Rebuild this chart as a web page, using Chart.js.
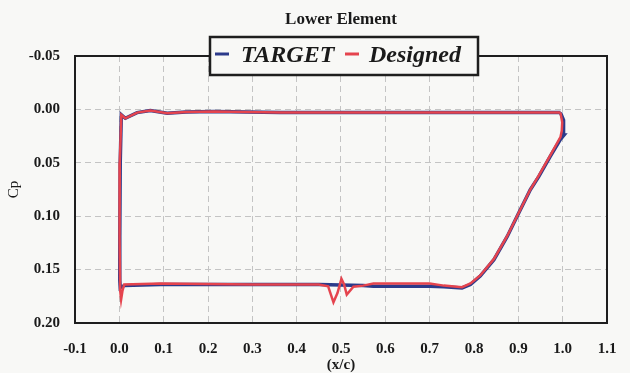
<!DOCTYPE html>
<html>
<head>
<meta charset="utf-8">
<script src="https://cdn.jsdelivr.net/npm/chart.js@4.4.0/dist/chart.umd.min.js"></script>
<style>
  body { margin: 0; background: #f8f8f6; }
  #cpChart { display: block; }
</style>
</head>
<body>
<canvas id="cpChart" width="630" height="373"></canvas>
<script>
// x/c and Cp, loop order: upper TE -> LE -> lower -> TE
let targetX = [0.995, 0.9, 0.7, 0.5, 0.363, 0.213, 0.15, 0.108, 0.07, 0.04, 0.0135, 0.0045,
  0.002, 0.001, 0.001, 0.002, 0.005, 0.011, 0.0925, 0.3, 0.45, 0.55, 0.573, 0.7, 0.732,
  0.773, 0.792, 0.814, 0.845, 0.875, 0.897, 0.927, 0.946, 0.972, 0.995, 1.003, 1.002, 0.995];
let targetCp = [0.003, 0.003, 0.003, 0.003, 0.003, 0.002, 0.0025, 0.0036, 0.0011, 0.003, 0.0083, 0.0051,
  0.05, 0.12, 0.16, 0.167, 0.166, 0.165, 0.164, 0.164, 0.164, 0.165, 0.1656, 0.1656, 0.166,
  0.1672, 0.164, 0.156, 0.1407, 0.119, 0.1002, 0.0752, 0.063, 0.044, 0.028, 0.024, 0.01, 0.003];

let designX = [0.995, 0.9, 0.7, 0.5, 0.363, 0.213, 0.15, 0.108, 0.07, 0.04, 0.0135, 0.0045,
  0.001, 0.0005, 0.002, 0.004, 0.007, 0.011, 0.0925, 0.3, 0.45, 0.471, 0.483, 0.492, 0.501,
  0.507, 0.513, 0.528, 0.55, 0.573, 0.7, 0.732, 0.773, 0.792, 0.814, 0.845, 0.875, 0.897,
  0.927, 0.946, 0.972, 0.995, 0.998, 0.999, 0.995];
let designCp = [0.003, 0.003, 0.003, 0.003, 0.003, 0.002, 0.0025, 0.0036, 0.0011, 0.003, 0.0083, 0.0051,
  0.05, 0.12, 0.17, 0.178, 0.17, 0.164, 0.163, 0.164, 0.164, 0.1656, 0.1806, 0.172, 0.1587,
  0.164, 0.1734, 0.166, 0.165, 0.163, 0.163, 0.165, 0.1665, 0.163, 0.1555, 0.140, 0.1185, 0.1,
  0.075, 0.062, 0.043, 0.026, 0.02, 0.012, 0.003];

let xTicks = [-0.1, 0.0, 0.1, 0.2, 0.3, 0.4, 0.5, 0.6, 0.7, 0.8, 0.9, 1.0, 1.1];
let yTicks = [-0.05, 0.00, 0.05, 0.10, 0.15, 0.20];

let seriesNames = ['TARGET', 'Designed'];
let seriesColors = ['#2c3a8a', '#e5444e'];

function toPoints(xs, ys) {
  return xs.map((x, i) => ({ x: x, y: ys[i] }));
}

// Paint the off-white paper background
let paperPlugin = {
  id: 'paper',
  beforeDraw(chart) {
    let ctx = chart.ctx;
    ctx.save();
    ctx.fillStyle = '#f8f8f6';
    ctx.fillRect(0, 0, chart.width, chart.height);
    ctx.restore();
  }
};

// Frame around the plot plus the boxed legend sitting on the top edge
let frameLegendPlugin = {
  id: 'frameLegend',
  afterDraw(chart) {
    let ctx = chart.ctx;
    let a = chart.chartArea;
    ctx.save();
    ctx.strokeStyle = '#1e1e1e';
    ctx.lineWidth = 2;
    ctx.strokeRect(a.left, a.top, a.right - a.left, a.bottom - a.top);

    // legend box
    let bx = 210, by = 37, bw = 268, bh = 38;
    ctx.fillStyle = '#f8f8f6';
    ctx.fillRect(bx, by, bw, bh);
    ctx.lineWidth = 2.5;
    ctx.strokeRect(bx, by, bw, bh);

    ctx.font = 'italic bold 24px "Liberation Serif", serif';
    ctx.textBaseline = 'middle';
    ctx.fillStyle = '#1a1a1a';
    let entries = [
      { lx: 215, tx: 241 },
      { lx: 345, tx: 369 }
    ];
    entries.forEach((e, i) => {
      ctx.strokeStyle = seriesColors[i];
      ctx.lineWidth = 3;
      ctx.beginPath();
      ctx.moveTo(e.lx, 54);
      ctx.lineTo(e.lx + 14, 54);
      ctx.stroke();
      ctx.fillText(seriesNames[i], e.tx, 56);
    });
    ctx.restore();
  }
};

let ctx = document.getElementById('cpChart').getContext('2d');
let cpChart = new Chart(ctx, {
  type: 'scatter',
  data: {
    datasets: [
      {
        label: seriesNames[0],
        data: toPoints(targetX, targetCp),
        showLine: true,
        borderColor: seriesColors[0],
        borderWidth: 3.5,
        pointRadius: 0,
        tension: 0,
        order: 1
      },
      {
        label: seriesNames[1],
        data: toPoints(designX, designCp),
        showLine: true,
        borderColor: seriesColors[1],
        borderWidth: 2.5,
        pointRadius: 0,
        tension: 0,
        order: 0
      }
    ]
  },
  options: {
    responsive: false,
    animation: false,
    layout: { padding: { left: 0, right: 23, top: 0, bottom: 0 } },
    plugins: {
      legend: { display: false },
      tooltip: { enabled: false },
      title: {
        display: true,
        text: 'Lower Element',
        fullSize: false,
        color: '#1a1a1a',
        font: { family: '"Liberation Serif", serif', size: 17, weight: 'bold', lineHeight: 1.2 },
        padding: { top: 9, bottom: 26.6 }
      }
    },
    scales: {
      x: {
        type: 'linear',
        min: -0.1,
        max: 1.1,
        afterBuildTicks: (scale) => { scale.ticks = xTicks.map(v => ({ value: v })); },
        afterFit: (scale) => {
          scale.height = 50;
          scale.paddingLeft = 0;
          scale.paddingRight = 0;
        },
        ticks: {
          padding: 17,
          color: '#1a1a1a',
          font: { family: '"Liberation Serif", serif', size: 15, weight: 'bold' },
          callback: (v) => v.toFixed(1)
        },
        grid: { color: '#c4c4c4', lineWidth: 1, drawTicks: false },
        border: { display: false, dash: [6, 4] },
        title: {
          display: true,
          text: '(x/c)',
          color: '#1a1a1a',
          padding: 0,
          font: { family: '"Liberation Serif", serif', size: 15, weight: 'bold', lineHeight: 1 }
        }
      },
      y: {
        type: 'linear',
        reverse: true,
        min: -0.05,
        max: 0.20,
        afterBuildTicks: (scale) => { scale.ticks = yTicks.map(v => ({ value: v })); },
        afterFit: (scale) => { scale.width = 75; },
        ticks: {
          padding: 15,
          color: '#1a1a1a',
          font: { family: '"Liberation Serif", serif', size: 15, weight: 'bold' },
          callback: (v) => v.toFixed(2)
        },
        grid: { color: '#c4c4c4', lineWidth: 1, drawTicks: false },
        border: { display: false, dash: [6, 4] },
        title: {
          display: true,
          text: 'Cp',
          color: '#1a1a1a',
          padding: { top: 5, bottom: 0 },
          font: { family: '"Liberation Serif", serif', size: 15, lineHeight: 1.2 }
        }
      }
    }
  },
  plugins: [paperPlugin, frameLegendPlugin]
});
</script>
</body>
</html>
